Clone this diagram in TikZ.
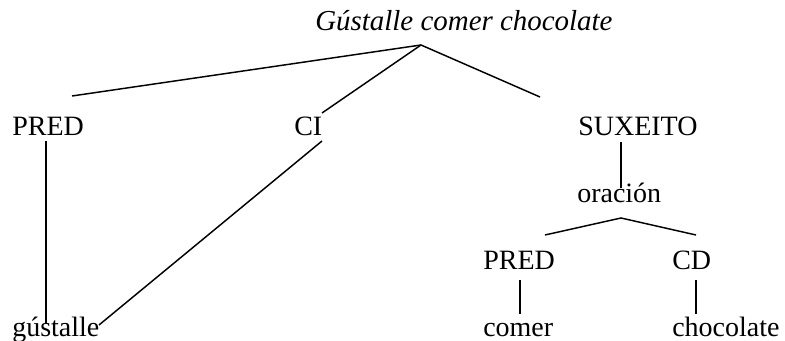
\documentclass[tikz,border=0pt]{standalone}
\usepackage{fontspec}
\setmainfont{Liberation Serif}
\usepackage{tikz}

\begin{document}
\begin{tikzpicture}[x = .75pt, y = -.75pt, every node/.style = {inner sep = 0, anchor = base west, font = \fontsize{21}{25}\selectfont}]
        \useasboundingbox (0,0) rectangle (785,341);
        \node[font = \fontsize{21.7}{26}\selectfont\itshape] (title) at (315,31) {Gústalle comer chocolate};
        \node (pred) at (12,136) {PRED};
        \node (ci) at (294,136) {CI};
        \node (suj) at (578,136) {SUXEITO};
        \node (or) at (577,203) {oración};
        \node (pred2) at (483,270) {PRED};
        \node (cd) at (672,270) {CD};
        \node (gus) at (12,337) {gústalle};
        \node (com) at (483,337) {comer};
        \node (choc) at (672,337) {chocolate};
        \coordinate (top) at (421,45);
        \coordinate (top2) at (621,218);
        \draw[line width = 1.1pt] (72,96) -- (top) -- (540,97);
        \draw[line width = 1.1pt] (top) -- (322,113);
        \draw[line width = 1.1pt] (46,141) -- (46,323);
        \draw[line width = 1.1pt] (322,141) -- (99,325);
        \draw[line width = 1.1pt] (621,142) -- (621,188);
        \draw[line width = 1.1pt] (545,235) -- (top2) -- (696,235);
        \draw[line width = 1.1pt] (520,280) -- (520,314);
        \draw[line width = 1.1pt] (696,280) -- (696,314);
      \end{tikzpicture}
\end{document}
